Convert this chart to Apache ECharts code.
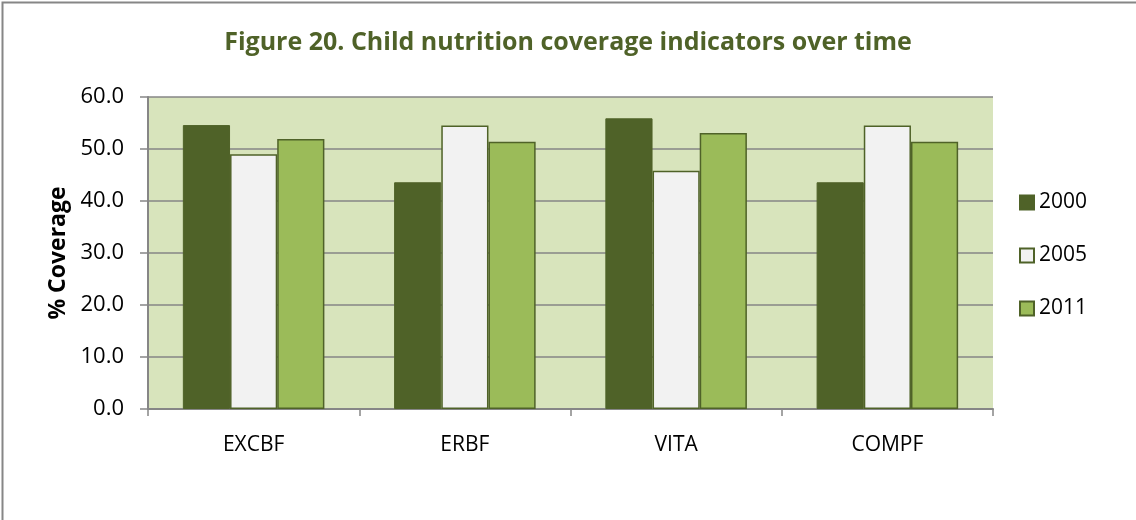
<!DOCTYPE html>
<html><head><meta charset="utf-8">
<script src="https://cdn.jsdelivr.net/npm/echarts@6/dist/echarts.min.js"></script>
<style>html,body{margin:0;padding:0;background:#fff}#c{width:1136px;height:520px}</style>
</head><body><div id="c"></div>
<script>
var categories = ['EXCBF', 'ERBF', 'VITA', 'COMPF'];
var seriesNames = ['2000', '2005', '2011'];
var values2000 = [54.6, 43.6, 55.9, 43.6];
var values2005 = [49.0, 54.5, 45.8, 54.5];
var values2011 = [51.9, 51.4, 53.1, 51.4];
var yTicks = { min: 0, max: 60, interval: 10 };

var font = "'Open Sans', 'Noto Sans', sans-serif";
var chart = echarts.init(document.getElementById('c'), null, {renderer: 'canvas'});
var dark = '#4F6228';
chart.setOption({
  animation: false,
  backgroundColor: '#fff',
  title: {
    text: 'Figure 20. Child nutrition coverage indicators over time',
    left: 'center', top: 25,
    textStyle: { color: dark, fontSize: 25, fontWeight: 'bold', fontFamily: font }
  },
  graphic: [{
    type: 'rect', left: 0, top: 0, silent: true,
    shape: { x: 0.5, y: 0.5, width: 1135, height: 519 },
    style: { fill: 'none', stroke: '#868686', lineWidth: 2 }
  }],
  legend: {
    orient: 'vertical', left: 1019, top: 192, padding: 0,
    itemWidth: 14, itemHeight: 14, itemGap: 32, icon: 'rect',
    textStyle: { fontSize: 21, fontFamily: font, color: '#000', lineHeight: 20 },
    data: seriesNames
  },
  grid: { left: 148, right: 143, top: 97, bottom: 111, show: true, backgroundColor: '#D8E4BC', borderWidth: 0 },
  xAxis: {
    type: 'category', data: categories,
    axisLine: { lineStyle: { color: '#868686', width: 2 } },
    axisTick: { show: true, length: 7, lineStyle: { color: '#868686', width: 1.5 } },
    axisLabel: { fontSize: 21, fontFamily: font, color: '#000', margin: 26 }
  },
  yAxis: {
    type: 'value', min: yTicks.min, max: yTicks.max, interval: yTicks.interval,
    name: '% Coverage', nameLocation: 'middle', nameGap: 78,
    nameTextStyle: { fontSize: 23, fontWeight: 'bold', fontFamily: font, color: '#000' },
    axisLine: { show: true, lineStyle: { color: '#868686', width: 2 } },
    axisTick: { show: true, length: 8, lineStyle: { color: '#868686', width: 1.5 } },
    axisLabel: { fontSize: 22, fontFamily: font, color: '#000', margin: 24,
      formatter: function (v) { return v.toFixed(1); } },
    splitLine: { lineStyle: { color: '#868686', width: 1.5 } }
  },
  series: [
    { name: seriesNames[0], type: 'bar', data: values2000, barGap: '0%', barCategoryGap: '33%',
      itemStyle: { color: dark, borderColor: dark, borderWidth: 1 } },
    { name: seriesNames[1], type: 'bar', data: values2005, barGap: '0%', barCategoryGap: '33%',
      itemStyle: { color: '#F2F2F2', borderColor: dark, borderWidth: 1.5 } },
    { name: seriesNames[2], type: 'bar', data: values2011, barGap: '0%', barCategoryGap: '33%',
      itemStyle: { color: '#9BBB59', borderColor: dark, borderWidth: 1.5 } }
  ]
});
</script></body></html>
